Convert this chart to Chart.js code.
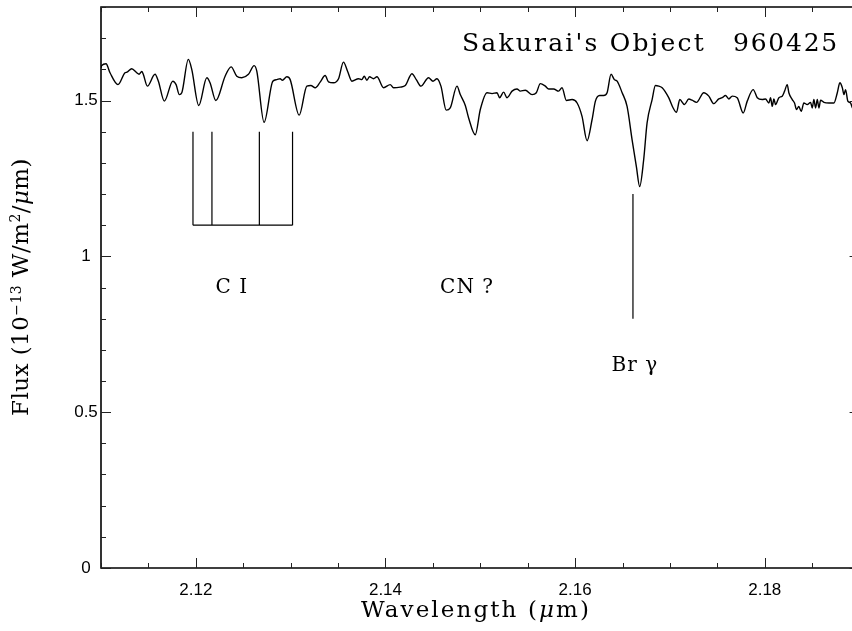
<!DOCTYPE html>
<html>
<head>
<meta charset="utf-8">
<script src="https://cdn.jsdelivr.net/npm/chart.js@4.4.1/dist/chart.umd.min.js"></script>
<style>
  body { margin: 0; background: #fff; overflow: hidden; }
  canvas { display: block; }
</style>
</head>
<body>
<canvas id="spec" width="852" height="631"></canvas>
<script>
// spectrum (micron, 1e-13 W/m2/micron)
const wavelength = [
  2.1100, 2.11007, 2.11053, 2.11095, 2.11179, 2.11253, 2.11274, 2.11324, 2.11377, 2.11401,
  2.11430, 2.11446, 2.11489, 2.11570, 2.11605, 2.11668, 2.11757, 2.11792, 2.11826, 2.11852,
  2.11921, 2.11957, 2.12031, 2.12116, 2.12150, 2.12211, 2.12309, 2.12372, 2.12432, 2.12485,
  2.12555, 2.12615, 2.12643, 2.12720, 2.12812, 2.12854, 2.12889, 2.12913, 2.12960, 2.12995,
  2.13090, 2.13171, 2.13213, 2.13259, 2.13311, 2.13364, 2.13399, 2.13452, 2.13505, 2.13557,
  2.13600, 2.13646, 2.13716, 2.13751, 2.13776, 2.13804, 2.13832, 2.13874, 2.13910, 2.13980,
  2.14050, 2.14085, 2.14156, 2.14209, 2.14279, 2.14325, 2.14374, 2.14454, 2.14501, 2.14543,
  2.14585, 2.14641, 2.14683, 2.14754, 2.14789, 2.14842, 2.14877, 2.14947, 2.15000, 2.15071,
  2.15124, 2.15176, 2.15204, 2.15246, 2.15282, 2.15335, 2.15387, 2.15422, 2.15475, 2.15546,
  2.15591, 2.15633, 2.15686, 2.15721, 2.15774, 2.15826, 2.15862, 2.15908, 2.15968, 2.16021,
  2.16073, 2.16126, 2.16179, 2.16214, 2.16259, 2.16301, 2.16337, 2.16379, 2.16414, 2.16443,
  2.16496, 2.16548, 2.16601, 2.16646, 2.16681, 2.16723, 2.16759, 2.16812, 2.16847, 2.16882,
  2.16918, 2.16987, 2.17034, 2.17069, 2.17104, 2.17153, 2.17199, 2.17234, 2.17280, 2.17357,
  2.17410, 2.17462, 2.17515, 2.17551, 2.17586, 2.17621, 2.17657, 2.17709, 2.17773, 2.17815,
  2.17878, 2.17921, 2.17973, 2.18008, 2.18043, 2.18061, 2.18079, 2.18096, 2.18114, 2.18149,
  2.18184, 2.18209, 2.18237, 2.18254, 2.18290, 2.18314, 2.18335, 2.18359, 2.18385, 2.18412,
  2.18448, 2.18483, 2.18501, 2.18518, 2.18536, 2.18554, 2.18571, 2.18589, 2.18624, 2.18677,
  2.18729, 2.18765, 2.18792, 2.18818, 2.18835, 2.18852, 2.18876, 2.18905, 2.18926, 2.19000
];
const flux = [
  1.605, 1.612, 1.618, 1.589, 1.551, 1.589, 1.591, 1.602, 1.589, 1.584,
  1.593, 1.584, 1.546, 1.584, 1.562, 1.498, 1.562, 1.551, 1.519, 1.525,
  1.632, 1.600, 1.484, 1.573, 1.557, 1.500, 1.578, 1.608, 1.578, 1.573,
  1.584, 1.612, 1.594, 1.430, 1.562, 1.567, 1.570, 1.565, 1.576, 1.567,
  1.453, 1.546, 1.548, 1.541, 1.559, 1.580, 1.560, 1.557, 1.570, 1.623,
  1.594, 1.562, 1.570, 1.567, 1.578, 1.565, 1.576, 1.570, 1.576, 1.541,
  1.551, 1.541, 1.543, 1.548, 1.586, 1.567, 1.546, 1.573, 1.562, 1.570,
  1.546, 1.469, 1.476, 1.546, 1.519, 1.484, 1.444, 1.390, 1.471, 1.525,
  1.522, 1.525, 1.509, 1.527, 1.509, 1.530, 1.537, 1.530, 1.533, 1.519,
  1.525, 1.554, 1.546, 1.537, 1.537, 1.530, 1.541, 1.500, 1.503, 1.492,
  1.449, 1.371, 1.439, 1.498, 1.516, 1.516, 1.525, 1.584, 1.567, 1.562,
  1.525, 1.481, 1.374, 1.288, 1.224, 1.310, 1.428, 1.503, 1.548, 1.546,
  1.541, 1.509, 1.476, 1.462, 1.503, 1.487, 1.505, 1.501, 1.494, 1.525,
  1.514, 1.490, 1.505, 1.509, 1.516, 1.505, 1.514, 1.509, 1.460, 1.498,
  1.535, 1.509, 1.503, 1.505, 1.492, 1.509, 1.481, 1.505, 1.487, 1.509,
  1.514, 1.530, 1.551, 1.525, 1.503, 1.492, 1.471, 1.481, 1.465, 1.492,
  1.487, 1.494, 1.476, 1.503, 1.476, 1.503, 1.476, 1.501, 1.494, 1.492,
  1.492, 1.525, 1.557, 1.541, 1.519, 1.535, 1.498, 1.492, 1.476, 1.470
];

const xTicks = [2.12, 2.14, 2.16, 2.18];
const xTickLabels = ['2.12', '2.14', '2.16', '2.18'];
const yTicks = [0, 0.5, 1, 1.5];
const yTickLabels = ['0', '0.5', '1', '1.5'];

// the plot box ends at 2.19, just past the right side of the picture
const xMin = 2.11, xBoxMax = 2.19, xShownMax = 2.1892;

// line identifications
const ciLines = [2.1197, 2.1217, 2.1267, 2.1302];
const ciTop = 1.4, ciBottom = 1.1;
const brGamma = 2.1661;
const brTop = 1.2, brBottom = 0.8;
const lineLabels = ['C I', 'CN ?', 'Br γ'];
const lineLabelX = [2.1238, 2.1486, 2.1663];
const lineLabelY = [0.9, 0.9, 0.65];

const serif = '"DejaVu Serif", serif';

// draw text runs stretched to a given width (mimics the wide plot font)
function spacedText(ctx, runs, cx, cy, target) {
    let natural = 0, chars = 0;
    ctx.letterSpacing = '0px';
    runs.forEach(r => {
        ctx.font = r.font;
        natural += ctx.measureText(r.t).width;
        chars += [...r.t].length;
    });
    const sp = (target - natural) / chars;
    ctx.letterSpacing = sp + 'px';
    ctx.textAlign = 'left';
    ctx.textBaseline = 'middle';
    let x = cx - target / 2;
    runs.forEach(r => {
        ctx.font = r.font;
        ctx.fillText(r.t, x, cy + (r.dy || 0));
        x += ctx.measureText(r.t).width;
    });
    ctx.letterSpacing = '0px';
}

const framePlugin = {
    id: 'frame',
    afterDraw(chart) {
        const ctx = chart.ctx;
        const a = chart.chartArea;
        const xs = chart.scales.x, ys = chart.scales.y;
        const right = xs.getPixelForValue(xBoxMax);
        ctx.save();
        ctx.strokeStyle = '#000';
        ctx.fillStyle = '#000';

        // box (right side falls outside the picture)
        ctx.lineWidth = 1.6;
        ctx.beginPath();
        ctx.moveTo(right, a.top);
        ctx.lineTo(a.left, a.top);
        ctx.lineTo(a.left, a.bottom);
        ctx.lineTo(right, a.bottom);
        ctx.stroke();

        // ticks, pointing inward
        ctx.lineWidth = 1;
        ctx.strokeStyle = '#222';
        ctx.beginPath();
        for (let i = 0; i <= 16; i++) {
            const v = 2.11 + i * 0.005;
            const len = (i % 4 === 2) ? 10 : 5;
            const px = Math.round(xs.getPixelForValue(v)) + 0.5;
            ctx.moveTo(px, a.bottom); ctx.lineTo(px, a.bottom - len);
            ctx.moveTo(px, a.top); ctx.lineTo(px, a.top + len);
        }
        for (let i = 0; i <= 18; i++) {
            const v = i * 0.1;
            const len = (i % 5 === 0) ? 10 : 5;
            const py = Math.round(ys.getPixelForValue(v)) + 0.5;
            ctx.moveTo(a.left, py); ctx.lineTo(a.left + len, py);
            ctx.moveTo(right, py); ctx.lineTo(right - len, py);
        }
        ctx.stroke();

        // tick labels
        ctx.font = '17px "Liberation Sans", Arial, sans-serif';
        ctx.textAlign = 'center';
        ctx.textBaseline = 'middle';
        xTicks.forEach((v, i) => {
            ctx.fillText(xTickLabels[i], xs.getPixelForValue(v), a.bottom + 22);
        });
        yTicks.forEach((v, i) => {
            ctx.fillText(yTickLabels[i], 86, ys.getPixelForValue(v));
        });

        // axis titles
        const f = '23px ' + serif;
        const fi = 'italic 23px ' + serif;
        const fs = '14px ' + serif;
        spacedText(ctx, [{t: 'Wavelength (', font: f}, {t: 'μ', font: fi}, {t: 'm)', font: f}], 476, 611, 230);
        ctx.save();
        ctx.translate(22, 287);
        ctx.rotate(-Math.PI / 2);
        spacedText(ctx, [
            {t: 'Flux (10', font: f}, {t: '−13', font: fs, dy: -5}, {t: ' W/m', font: f},
            {t: '2', font: fs, dy: -6}, {t: '/', font: f}, {t: 'μ', font: fi}, {t: 'm)', font: f}
        ], 0, 0, 258);
        ctx.restore();

        // title
        spacedText(ctx, [{t: "Sakurai's Object", font: '25px ' + serif}], 584, 44, 244);
        spacedText(ctx, [{t: '960425', font: '25px ' + serif}], 786, 44, 106);

        // line marks
        ctx.strokeStyle = '#000';
        ctx.lineWidth = 1.2;
        ctx.beginPath();
        ciLines.forEach(w => {
            const px = xs.getPixelForValue(w);
            ctx.moveTo(px, ys.getPixelForValue(ciTop));
            ctx.lineTo(px, ys.getPixelForValue(ciBottom));
        });
        ctx.moveTo(xs.getPixelForValue(ciLines[0]), ys.getPixelForValue(ciBottom));
        ctx.lineTo(xs.getPixelForValue(ciLines[ciLines.length - 1]), ys.getPixelForValue(ciBottom));
        const bx = xs.getPixelForValue(brGamma);
        ctx.moveTo(bx, ys.getPixelForValue(brTop));
        ctx.lineTo(bx, ys.getPixelForValue(brBottom));
        ctx.stroke();

        ctx.font = '20px ' + serif;
        ctx.textAlign = 'center';
        ctx.textBaseline = 'middle';
        ctx.letterSpacing = '1px';
        lineLabels.forEach((t, i) => {
            ctx.fillText(t, xs.getPixelForValue(lineLabelX[i]), ys.getPixelForValue(lineLabelY[i]));
        });
        ctx.letterSpacing = '0px';
        ctx.restore();
    }
};

new Chart(document.getElementById('spec'), {
    type: 'line',
    data: {
        datasets: [{
            data: wavelength.map((w, i) => ({x: w, y: flux[i]})),
            borderColor: '#000',
            borderWidth: 1.4,
            pointRadius: 0,
            cubicInterpolationMode: 'monotone',
            fill: false
        }]
    },
    options: {
        responsive: false,
        animation: false,
        devicePixelRatio: 1,
        layout: { padding: { left: 101, top: 7, right: 0, bottom: 63 } },
        plugins: { legend: { display: false }, tooltip: { enabled: false } },
        scales: {
            x: { type: 'linear', min: xMin, max: xShownMax, display: false },
            y: { min: 0, max: 1.8, display: false }
        }
    },
    plugins: [framePlugin]
});
</script>
</body>
</html>
